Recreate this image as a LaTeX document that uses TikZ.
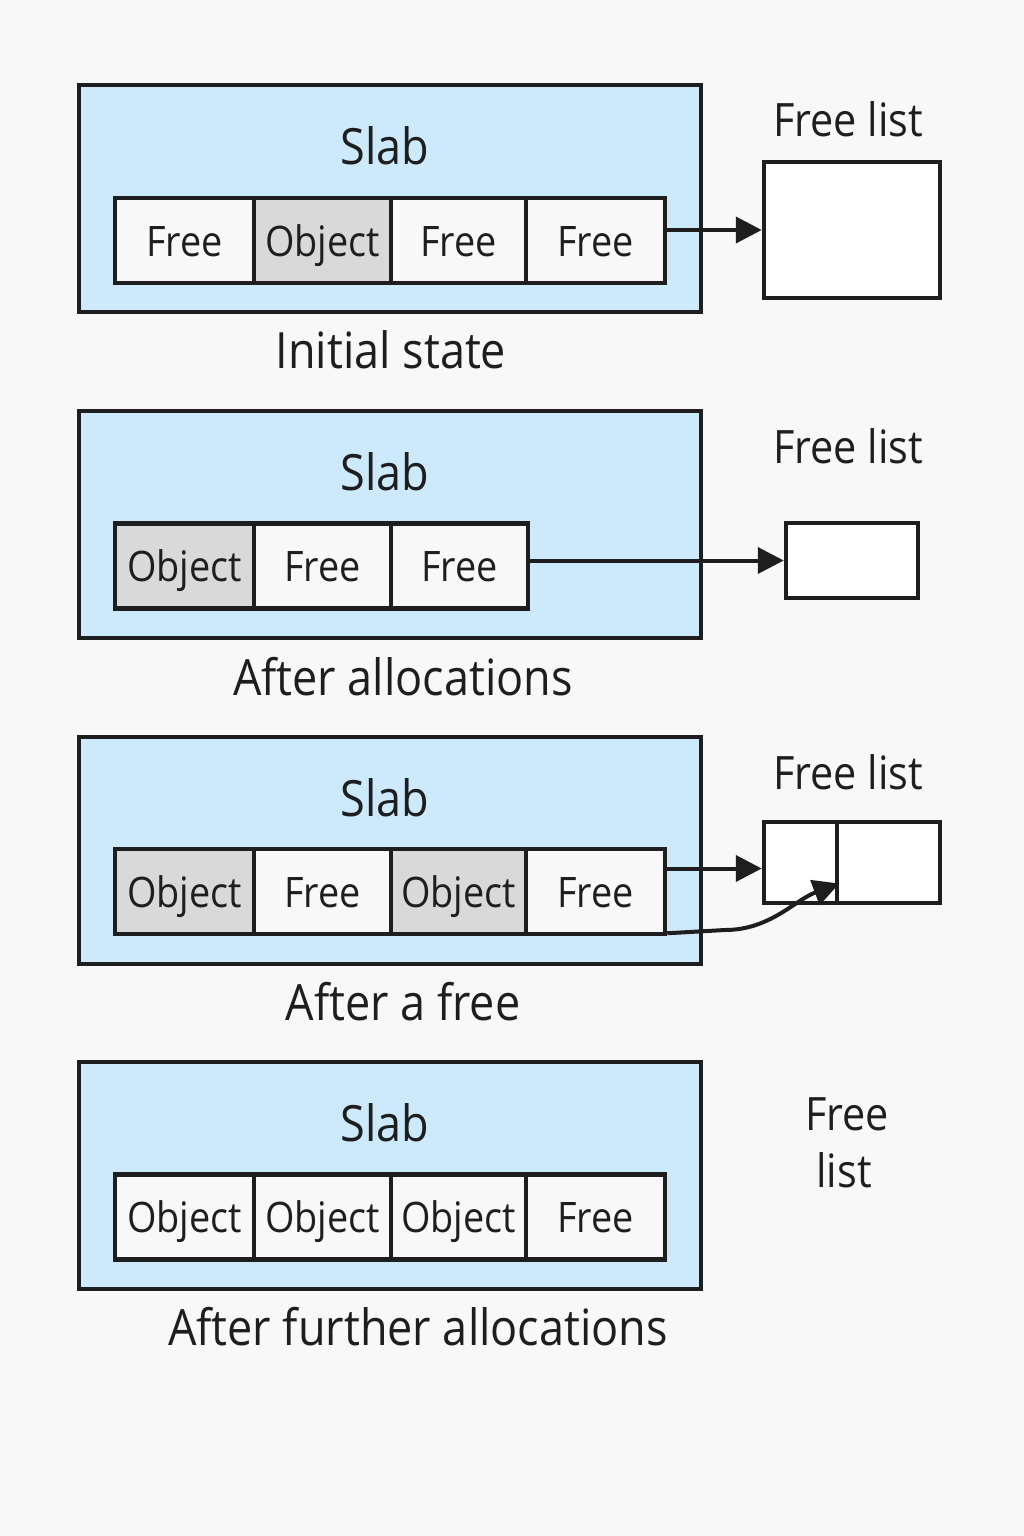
\documentclass[tikz,border=0pt]{standalone}
\usepackage{fontspec}
\setmainfont{Open Sans}[FakeStretch=0.9]
\usetikzlibrary{arrows.meta,calc}
\definecolor{bg}{HTML}{F8F8F8}
\definecolor{slabblue}{HTML}{CDE9FC}
\definecolor{cellw}{HTML}{F8F8F8}
\definecolor{cellg}{HTML}{D9D9D9}
\definecolor{ink}{HTML}{1E1E1E}
\tikzset{
  slabbox/.style={draw=ink, line width=4.5pt, fill=slabblue, minimum width=622pt, minimum height=227pt, inner sep=0pt},
  cellbox/.style={draw=ink, line width=4.5pt, fill=cellw, minimum height=85pt, inner sep=0pt, text height=31pt, text depth=0pt, font=\fontsize{42}{48}\selectfont, text=ink},
  objbox/.style={cellbox, fill=cellg},
  flbox/.style={draw=ink, line width=4.5pt, fill=white, inner sep=0pt},
  slabtxt/.style={font=\fontsize{50}{56}\selectfont, text=ink, inner sep=0pt},
  captxt/.style={font=\fontsize{50}{56}\selectfont, text=ink, inner sep=0pt},
  fltxt/.style={font=\fontsize{46}{52}\selectfont, text=ink, inner sep=0pt},
  arr/.style={draw=ink, line width=4pt, -{Triangle[length=26pt,width=26pt]}},
}
\begin{document}
\begin{tikzpicture}[x=1pt,y=-1pt]
\useasboundingbox[fill=bg] (0,0) rectangle (1024,1536);

% ---------- Panel 1 ----------
\node[slabbox] (s1) at (390,198.5) {};
\node[slabtxt] (s1t) at (385,146) {Slab};
\node[cellbox, minimum width=139pt] (c11) at (184.5,240.5) {Free};
\node[objbox,  minimum width=137pt] (c12) at (322.5,240.5) {Object};
\node[cellbox, minimum width=135pt] (c13) at (458.5,240.5) {Free};
\node[cellbox, minimum width=139pt] (c14) at (595.5,240.5) {Free};
\node[flbox, minimum width=176pt, minimum height=136pt] (fl1) at (852,230) {};
\node[fltxt] (fl1t) at (848,119) {Free list};
\node[captxt] (cap1) at (391,350) {Initial state};
\draw[arr] (c14.east |- fl1.west) -- (fl1.west);

% ---------- Panel 2 ----------
\node[slabbox] (s2) at (390,524.5) {};
\node[slabtxt] (s2t) at (385,472) {Slab};
\node[objbox,  minimum width=139pt] (c21) at (184.5,566) {Object};
\node[cellbox, minimum width=137pt] (c22) at (322.5,566) {Free};
\node[cellbox, minimum width=137pt] (c23) at (459.5,566) {Free};
\node[flbox, minimum width=132pt, minimum height=75pt] (fl2) at (852,560.5) {};
\node[fltxt] (fl2t) at (848,446) {Free list};
\node[captxt] (cap2) at (403,677) {After allocations};
\draw[arr] (c23.east |- fl2.west) -- (fl2.west);

% ---------- Panel 3 ----------
\node[slabbox] (s3) at (390,850.5) {};
\node[slabtxt] (s3t) at (385,798) {Slab};
\node[objbox,  minimum width=139pt] (c31) at (184.5,891.5) {Object};
\node[cellbox, minimum width=137pt] (c32) at (322.5,891.5) {Free};
\node[objbox,  minimum width=135pt] (c33) at (458.5,891.5) {Object};
\node[cellbox, minimum width=139pt] (c34) at (595.5,891.5) {Free};
\node[flbox, minimum width=73pt, minimum height=81pt] (fl3a) at (800.5,862.5) {};
\node[flbox, minimum width=103pt, minimum height=81pt] (fl3b) at (888.5,862.5) {};
\node[fltxt] (fl3t) at (848,772) {Free list};
\node[captxt] (cap3) at (403,1002) {After a free};
\coordinate (p3a) at ($(c34.east |- fl3a.west)+(0,6)$);
\coordinate (p3b) at ($(fl3a.west)+(0,6)$);
\draw[arr] (p3a) -- (p3b);
\coordinate (q3a) at ($(c34.south east)+(0,-3)$);
\coordinate (q3b) at (725,930);
\coordinate (q3c) at ($(fl3a.east)+(0,21)$);
\draw[arr] (q3a) -- (q3b) .. controls (770,930) and (795,900) .. (q3c);

% ---------- Panel 4 ----------
\node[slabbox] (s4) at (390,1175.5) {};
\node[slabtxt] (s4t) at (385,1123) {Slab};
\node[cellbox, minimum width=139pt] (c41) at (184.5,1217) {Object};
\node[cellbox, minimum width=137pt] (c42) at (322.5,1217) {Object};
\node[cellbox, minimum width=135pt] (c43) at (458.5,1217) {Object};
\node[cellbox, minimum width=139pt] (c44) at (595.5,1217) {Free};
\node[fltxt] (fl4a) at (847,1114) {Free};
\node[fltxt] (fl4b) at (844,1170) {list};
\node[captxt] (cap4) at (418,1327) {After further allocations};
\end{tikzpicture}
\end{document}
